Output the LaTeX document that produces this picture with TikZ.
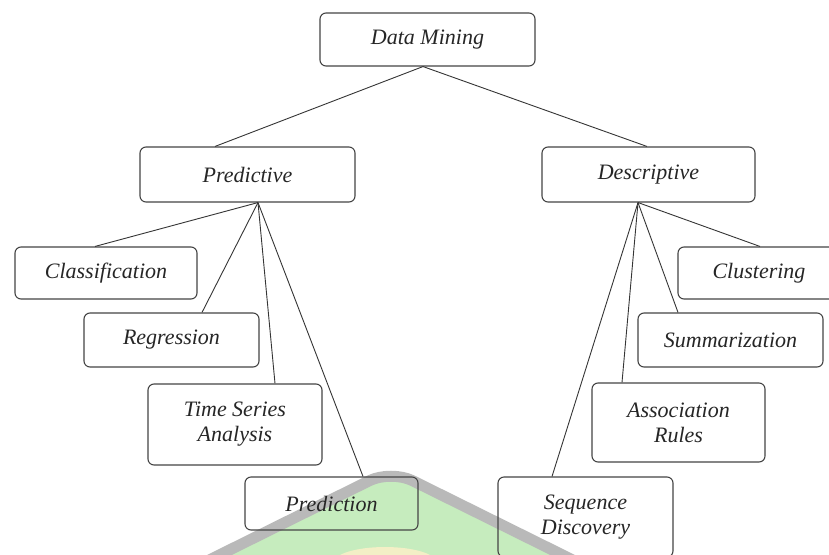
\documentclass[tikz,border=0pt]{standalone}
\usepackage{fontspec}
\setmainfont{Liberation Serif}
\definecolor{boxgray}{HTML}{454545}
\definecolor{linegray}{HTML}{353535}
\definecolor{textgray}{HTML}{262626}
\definecolor{wmgreen}{HTML}{C6ECBE}
\definecolor{wmgray}{HTML}{B9B9B9}
\definecolor{wmyellow}{HTML}{F3EFC6}
\begin{document}
\begin{tikzpicture}[x=1pt,y=-1pt,
  box/.style={draw=boxgray, line width=1.1pt, rounded corners=6pt, inner sep=0pt,
    font=\fontsize{22}{25}\selectfont\itshape, text=textgray, align=center},
  link/.style={draw=linegray, line width=0.9pt}]
\useasboundingbox (0,0) rectangle (829,554);
\clip (0,0) rectangle (829,554);
\fill[white] (0,0) rectangle (829,554);
% watermark
\path[fill=wmgreen, draw=wmgray, line width=11pt, rounded corners=24pt]
  (179,575) -- (391,470) -- (603,575);
\fill[wmyellow] (385,563) ellipse (52pt and 16pt);
% nodes
\node[box, minimum width=215pt, minimum height=53pt] (dm) at (427.5,39.5) {Data Mining};
\node[box, minimum width=215pt, minimum height=55pt] (pred) at (247.5,174.5) {Predictive};
\node[box, minimum width=213pt, minimum height=55pt] (desc) at (648.5,174.5) {Descriptive};
\node[box, minimum width=182pt, minimum height=52pt] (class) at (106,273) {Classification};
\node[box, minimum width=175pt, minimum height=54pt] (regr) at (171.5,340) {Regression};
\node[box, minimum width=174pt, minimum height=81pt] (tsa) at (235,424.5) {Time Series\\Analysis};
\node[box, minimum width=173pt, minimum height=53pt] (predn) at (331.5,503.5) {Prediction};
\node[box, minimum width=162pt, minimum height=52pt] (clust) at (759,273) {Clustering};
\node[box, minimum width=185pt, minimum height=54pt] (summ) at (730.5,340) {Summarization};
\node[box, minimum width=173pt, minimum height=79pt] (assoc) at (678.5,422.5) {Association\\Rules};
\node[box, minimum width=175pt, minimum height=80pt] (seq) at (585.5,517) {Sequence\\Discovery};
% connectors
\draw[link] ([xshift=-4.5pt]dm.south) -- ([xshift=-32.5pt]pred.north);
\draw[link] ([xshift=-4.5pt]dm.south) -- ([xshift=-1.5pt]desc.north);
\draw[link] ([xshift=10.5pt]pred.south) -- ([xshift=-11pt]class.north);
\draw[link] ([xshift=10.5pt]pred.south) -- ([xshift=30.5pt]regr.north);
\draw[link] ([xshift=10.5pt]pred.south) -- ([xshift=40pt]tsa.north);
\draw[link] ([xshift=10.5pt]pred.south) -- ([xshift=31.5pt]predn.north);
\draw[link] ([xshift=-10.5pt]desc.south) -- ([xshift=1pt]clust.north);
\draw[link] ([xshift=-10.5pt]desc.south) -- ([xshift=-52.5pt]summ.north);
\draw[link] ([xshift=-10.5pt]desc.south) -- ([xshift=-56.5pt]assoc.north);
\draw[link] ([xshift=-10.5pt]desc.south) -- ([xshift=-33.5pt]seq.north);
\end{tikzpicture}
\end{document}
